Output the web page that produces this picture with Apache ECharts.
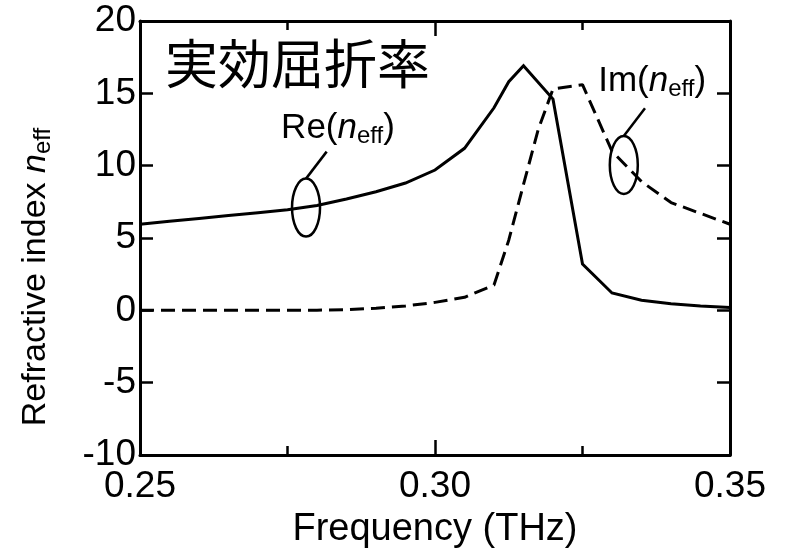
<!DOCTYPE html>
<html>
<head>
<meta charset="utf-8">
<script src="https://cdn.jsdelivr.net/npm/echarts@6/dist/echarts.min.js"></script>
<style>
  html, body { margin: 0; padding: 0; background: #fff; }
  #chart { width: 785px; height: 554px; }
</style>
</head>
<body>
<div id="chart"></div>
<script>
// Real part of the effective refractive index
const reFreq = [0.25, 0.255, 0.26, 0.265, 0.27, 0.275, 0.28, 0.285, 0.29, 0.295, 0.30, 0.305, 0.31, 0.3125, 0.315, 0.32, 0.325, 0.33, 0.335, 0.34, 0.345, 0.35];
const reVals = [5.95, 6.15, 6.35, 6.55, 6.75, 6.95, 7.25, 7.7, 8.2, 8.8, 9.7, 11.2, 14.0, 15.8, 16.9, 14.6, 3.2, 1.2, 0.7, 0.45, 0.3, 0.2];

// Imaginary part of the effective refractive index
const imFreq = [0.25, 0.255, 0.26, 0.265, 0.27, 0.275, 0.28, 0.285, 0.29, 0.295, 0.30, 0.305, 0.31, 0.3125, 0.315, 0.3175, 0.32, 0.325, 0.33, 0.335, 0.34, 0.345, 0.35];
const imVals = [0, 0, 0, 0, 0, 0, 0.01, 0.04, 0.15, 0.3, 0.55, 0.9, 1.75, 4.85, 8.7, 12.5, 15.3, 15.6, 11.0, 8.9, 7.45, 6.7, 5.95];

// Axis ranges and ticks
const xMin = 0.25, xMax = 0.35, xStep = 0.05;
const yMin = -10, yMax = 20, yStep = 5;

// Texts
const titleText = '実効屈折率';
const xTitle = 'Frequency (THz)';

// Callout anchors in data coordinates: [frequency, index]
const reLabelAt = [0.28356, 12.6];
const reEllipseAt = [0.27814, 7.1];
const reLeaderEnd = [0.28164, 10.97];
const imLabelAt = [0.3368, 15.85];
const imEllipseAt = [0.3320, 10.05];
const imLeaderEnd = [0.33559, 13.97];
const titleAt = [0.25424, 17.06];

const FONT = '"Liberation Sans", Arial, Helvetica, sans-serif';
const CJK = '"Noto Sans CJK JP", "Noto Sans CJK SC", sans-serif';
const INK = '#000';

const chart = echarts.init(document.getElementById('chart'), null, { renderer: 'canvas' });

const pairs = (xs, ys) => xs.map((x, i) => [x, ys[i]]);

function xAxisDef(pos, showLabel) {
  return {
    type: 'value', position: pos, min: xMin, max: xMax, interval: xStep,
    axisLine: { show: true, onZero: false, lineStyle: { color: INK, width: 3 } },
    axisTick: { show: true, inside: true, length: 15, lineStyle: { color: INK, width: 2.5 } },
    minorTick: { show: true, splitNumber: 2, length: 9, lineStyle: { color: INK, width: 2.5 } },
    splitLine: { show: false },
    minorSplitLine: { show: false },
    axisLabel: {
      show: showLabel, color: INK, fontSize: 37, fontFamily: FONT, margin: 13,
      formatter: v => v.toFixed(2)
    },
    name: showLabel ? xTitle : '',
    nameLocation: 'middle', nameGap: 56,
    nameTextStyle: { color: INK, fontSize: 38, fontFamily: FONT }
  };
}

function yAxisDef(pos, showLabel) {
  return {
    type: 'value', position: pos, min: yMin, max: yMax, interval: yStep,
    axisLine: { show: true, onZero: false, lineStyle: { color: INK, width: 3 } },
    axisTick: { show: true, inside: true, length: 13, lineStyle: { color: INK, width: 2.5 } },
    splitLine: { show: false },
    axisLabel: { show: showLabel, color: INK, fontSize: 37, fontFamily: FONT, margin: 4 }
  };
}

chart.setOption({
  backgroundColor: '#fff',
  animation: false,
  grid: { left: 140, right: 55, top: 21, bottom: 94, containLabel: false },
  xAxis: [xAxisDef('bottom', true), xAxisDef('top', false)],
  yAxis: [yAxisDef('left', true), yAxisDef('right', false)],
  series: [
    {
      name: 'Re', type: 'line', xAxisIndex: 0, yAxisIndex: 0,
      data: pairs(reFreq, reVals), showSymbol: false, smooth: false,
      lineStyle: { color: INK, width: 3, join: 'miter' }
    },
    {
      name: 'Im', type: 'line', xAxisIndex: 0, yAxisIndex: 0,
      data: pairs(imFreq, imVals), showSymbol: false, smooth: false,
      lineStyle: { color: INK, width: 3, type: [14, 7] }
    }
  ]
});

// Callouts, title and the y-axis name, placed through the grid's own scales
const px = p => chart.convertToPixel({ gridIndex: 0 }, p);

function nLabel(main, size, sub) {
  return {
    text: '{a|' + main + '(}{i|n}{s|eff}{a|)}',
    rich: {
      a: { fontSize: size, fontFamily: FONT, fill: INK, lineHeight: size * 1.15 },
      i: { fontSize: size, fontFamily: FONT, fontStyle: 'italic', fill: INK, lineHeight: size * 1.15 },
      s: { fontSize: sub, fontFamily: FONT, fill: INK, lineHeight: sub, verticalAlign: 'bottom', padding: [size * 0.72, 0, 0, 0] }
    }
  };
}

function callout(labelAt, ellipseAt, leaderEnd, word) {
  const c = px(ellipseAt), e = px(leaderEnd), l = px(labelAt);
  const rx = 14, ry = 29;
  return [
    { type: 'ellipse', shape: { cx: c[0], cy: c[1], rx: rx, ry: ry },
      style: { fill: 'none', stroke: INK, lineWidth: 2.5 }, z: 10 },
    { type: 'line', shape: { x1: c[0], y1: c[1] - ry, x2: e[0], y2: e[1] },
      style: { stroke: INK, lineWidth: 2.5 }, z: 10 },
    { type: 'text', x: l[0], y: l[1], z: 10,
      style: Object.assign(nLabel(word, 35, 24), { align: 'center', verticalAlign: 'middle' }) }
  ];
}

const t = px(titleAt);
const yName = nLabel('', 34, 24);
yName.text = '{a|Refractive index }{i|n}{s|eff}';

chart.setOption({
  graphic: [
    ...callout(reLabelAt, reEllipseAt, reLeaderEnd, 'Re'),
    ...callout(imLabelAt, imEllipseAt, imLeaderEnd, 'Im'),
    { type: 'text', x: t[0], y: t[1], z: 10,
      style: { text: titleText, fontSize: 53, fontFamily: CJK, fill: INK, align: 'left', verticalAlign: 'middle' } },
    { type: 'text', x: 36, y: 277, rotation: Math.PI / 2, z: 10,
      style: Object.assign(yName, { align: 'center', verticalAlign: 'middle' }) }
  ]
});
</script>
</body>
</html>
